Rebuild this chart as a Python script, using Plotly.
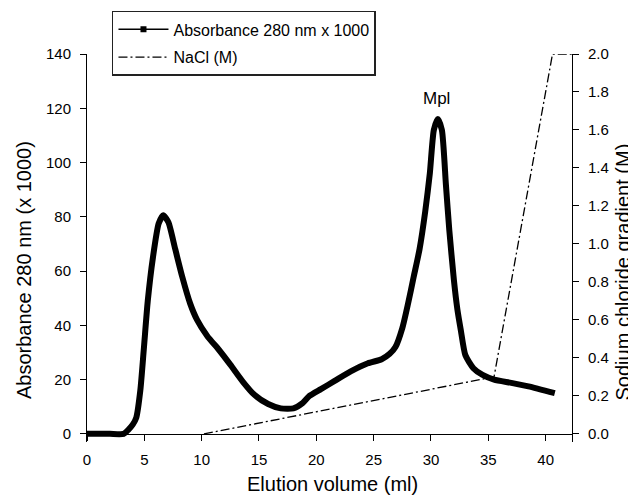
import plotly.graph_objects as go

# ---- data ----
volume_ml = [0, 1, 2, 3.2, 3.6, 4.0, 4.3, 4.65, 4.95, 5.3, 5.75, 6.25, 6.65, 7.1, 7.7,
             8.3, 9.0, 9.6, 10.5, 11.5, 12.5, 13.6, 14.6, 15.8, 16.9, 18.0, 18.8, 19.4,
             20.4, 21.6, 23.0, 24.5, 25.7, 26.4, 26.9, 27.5, 28.0, 28.5, 29.0, 29.5,
             29.9, 30.25, 30.6, 30.95, 31.3, 31.6, 32.0, 32.3, 32.6, 33.0, 33.7, 34.5,
             35.5, 37.0, 38.5, 40.8]
absorbance = [0, 0, 0, 0, 1.5, 3.5, 6, 16, 31, 49, 65, 77.5, 80.6, 78, 68,
              58, 48, 42, 36, 31, 25.5, 19.2, 14.4, 11, 9.4, 9.4, 11.3, 14,
              16.5, 19.5, 23, 26, 27.5, 29.5, 32, 39, 48, 58, 68, 82,
              96, 112, 116, 112, 92, 75, 56.7, 46, 38.3, 29, 24.2, 21.7,
              20, 18.8, 17.5, 15]

nacl_ml = [10.2, 35.5, 40.6, 42.3]
nacl_M = [0.0, 0.30, 2.0, 2.0]

x_ticks = [0, 5, 10, 15, 20, 25, 30, 35, 40]
y_ticks = [0, 20, 40, 60, 80, 100, 120, 140]
y2_ticks = [0.0, 0.2, 0.4, 0.6, 0.8, 1.0, 1.2, 1.4, 1.6, 1.8, 2.0]

X_MAX = 42.3
Y_MIN = -3
Y_MAX = 140
SCALE = 70.0  # absorbance units per M on the shared pixel scale

FONT = "Arial, Liberation Sans, sans-serif"

fig = go.Figure()

# real absorbance curve
fig.add_trace(go.Scatter(
    x=volume_ml, y=absorbance, mode="lines",
    line=dict(color="black", width=6, shape="spline", smoothing=0.6),
    showlegend=False, xaxis="x", yaxis="y"))

# legend entry for absorbance (thin line with square marker, as in reference)
fig.add_trace(go.Scatter(
    x=[None], y=[None], mode="lines+markers", name="Absorbance 280 nm x 1000",
    line=dict(color="black", width=1.5),
    marker=dict(symbol="square", size=6, color="black"),
    legendgroup="a", xaxis="x", yaxis="y"))

# NaCl gradient
fig.add_trace(go.Scatter(
    x=nacl_ml, y=nacl_M, mode="lines", name="NaCl (M)",
    line=dict(color="black", width=1.3, dash="9px,3px,2px,3px"),
    legendgroup="b", xaxis="x", yaxis="y2"))

xpos = (0 - Y_MIN) / (Y_MAX - Y_MIN)
common_tick = dict(showgrid=False, zeroline=False, tickcolor="black", tickwidth=1, ticklen=6)

# page body has an 8px margin: figure is reduced so it fits the 636x495 window
fig.update_layout(
    width=628, height=487,
    margin=dict(l=79, r=64, t=46, b=53, autoexpand=False),
    paper_bgcolor="white", plot_bgcolor="white",
    font=dict(family=FONT, color="black", size=15),
    xaxis=dict(range=[0, X_MAX], tickvals=x_ticks, ticks="outside",
               showline=True, linecolor="black", linewidth=1,
               anchor="free", position=xpos, ticklabelstandoff=6,
               tickfont=dict(size=15), **common_tick),
    xaxis2=dict(range=[0, X_MAX], tickvals=x_ticks, ticks="inside",
                overlaying="x", anchor="free", position=xpos,
                showline=False, showticklabels=False, **common_tick),
    yaxis=dict(range=[Y_MIN, Y_MAX], tickvals=y_ticks, ticks="outside",
               showline=True, linecolor="black", linewidth=1,
               ticklabelstandoff=6, tickfont=dict(size=15), **common_tick),
    yaxis2=dict(range=[Y_MIN / SCALE, Y_MAX / SCALE], tickvals=y2_ticks,
                tickformat=".1f", ticks="outside", overlaying="y", side="right",
                showline=True, linecolor="black", linewidth=1,
                ticklabelstandoff=6, tickfont=dict(size=15), **common_tick),
    yaxis3=dict(range=[Y_MIN, Y_MAX], tickvals=y_ticks, ticks="inside",
                overlaying="y", side="left", showline=False,
                showticklabels=False, **common_tick),
    yaxis4=dict(range=[Y_MIN / SCALE, Y_MAX / SCALE], tickvals=y2_ticks,
                ticks="inside", overlaying="y", side="right", showline=False,
                showticklabels=False, **common_tick),
    legend=dict(x=0.0515, y=1.111, xanchor="left", yanchor="top",
                bordercolor="#222", borderwidth=1.5, bgcolor="white",
                font=dict(size=16, family=FONT), traceorder="grouped",
                tracegroupgap=4, itemwidth=50),
    annotations=[
        dict(text="Mpl", x=30.5, y=123.7, xref="x", yref="y", showarrow=False,
             font=dict(size=17)),
        dict(text="Elution volume (ml)", x=0.507, y=-0.108, xref="paper", yref="paper",
             showarrow=False, xanchor="center", yanchor="middle", font=dict(size=20)),
        dict(text="Absorbance 280 nm (x 1000)", x=-0.130, y=0.443, xref="paper",
             yref="paper", showarrow=False, textangle=-90, xanchor="center",
             yanchor="middle", font=dict(size=20)),
        dict(text="Sodium chloride gradient (M)", x=1.106, y=0.438, xref="paper",
             yref="paper", showarrow=False, textangle=-90, xanchor="center",
             yanchor="middle", font=dict(size=20)),
    ],
)

fig.write_html("out.html")
